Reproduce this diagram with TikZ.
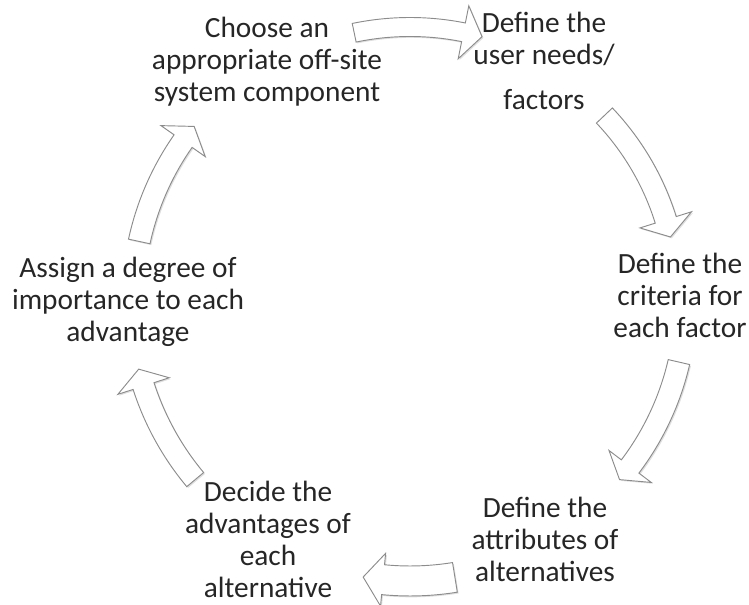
\documentclass[tikz,border=0pt]{standalone}
\usepackage{fontspec}
\setmainfont{Carlito}
\usetikzlibrary{shadows}

\newcommand{\cyclearrow}[6]{%
  \path[cycarrow] ({#2}:{#1+#4/2}) arc[start angle={#2}, end angle={#3}, radius={#1+#4/2}]
    -- ({#3}:{#1+#5/2}) -- ({#3-#6}:{#1}) -- ({#3}:{#1-#5/2}) -- ({#3}:{#1-#4/2})
    arc[start angle={#3}, end angle={#2}, radius={#1-#4/2}] -- cycle;}

\begin{document}
\begin{tikzpicture}[
    x=0.75pt, y=0.75pt,
    every node/.style={font=\fontsize{22}{24}\selectfont, text=black!85, align=center, inner sep=0pt},
    lbl/.style={anchor=base},
    cycarrow/.style={fill=white, draw=black!45, line width=0.7pt, line join=miter,
      drop shadow={shadow xshift=1pt, shadow yshift=-1pt, opacity=0.25}},
  ]
  \useasboundingbox (0,0) rectangle (749,605);
  \node[lbl] (choose) at (267,503) {Choose an\\appropriate off-site\\system component};
  \node[lbl] (needs) at (544,495) {Define the\\user needs/\\[10pt]factors};
  \node[lbl] (criteria) at (680,267) {Define the\\criteria for\\each factor};
  \node[lbl] (attributes) at (545,23) {Define the\\attributes of\\alternatives};
  \node[lbl] (decide) at (268,7) {Decide the\\advantages of\\each\\alternative};
  \node[lbl] (assign) at (128,263) {Assign a degree of\\importance to each\\advantage};
  \begin{scope}[shift={(410,305)}]
    \cyclearrow{273}{101.8}{78.7}{19}{54}{4}
    \cyclearrow{268}{43.5}{17.4}{22}{54}{3.8}
    \cyclearrow{276}{-13}{-37.1}{22}{53}{3.5}
    \cyclearrow{281}{-80.8}{-95.5}{30}{53}{4.1}
    \cyclearrow{280}{-140.1}{-162.1}{22}{54}{3.6}
    \cyclearrow{277}{167.8}{145}{22}{54}{3.8}
  \end{scope}
\end{tikzpicture}
\end{document}
